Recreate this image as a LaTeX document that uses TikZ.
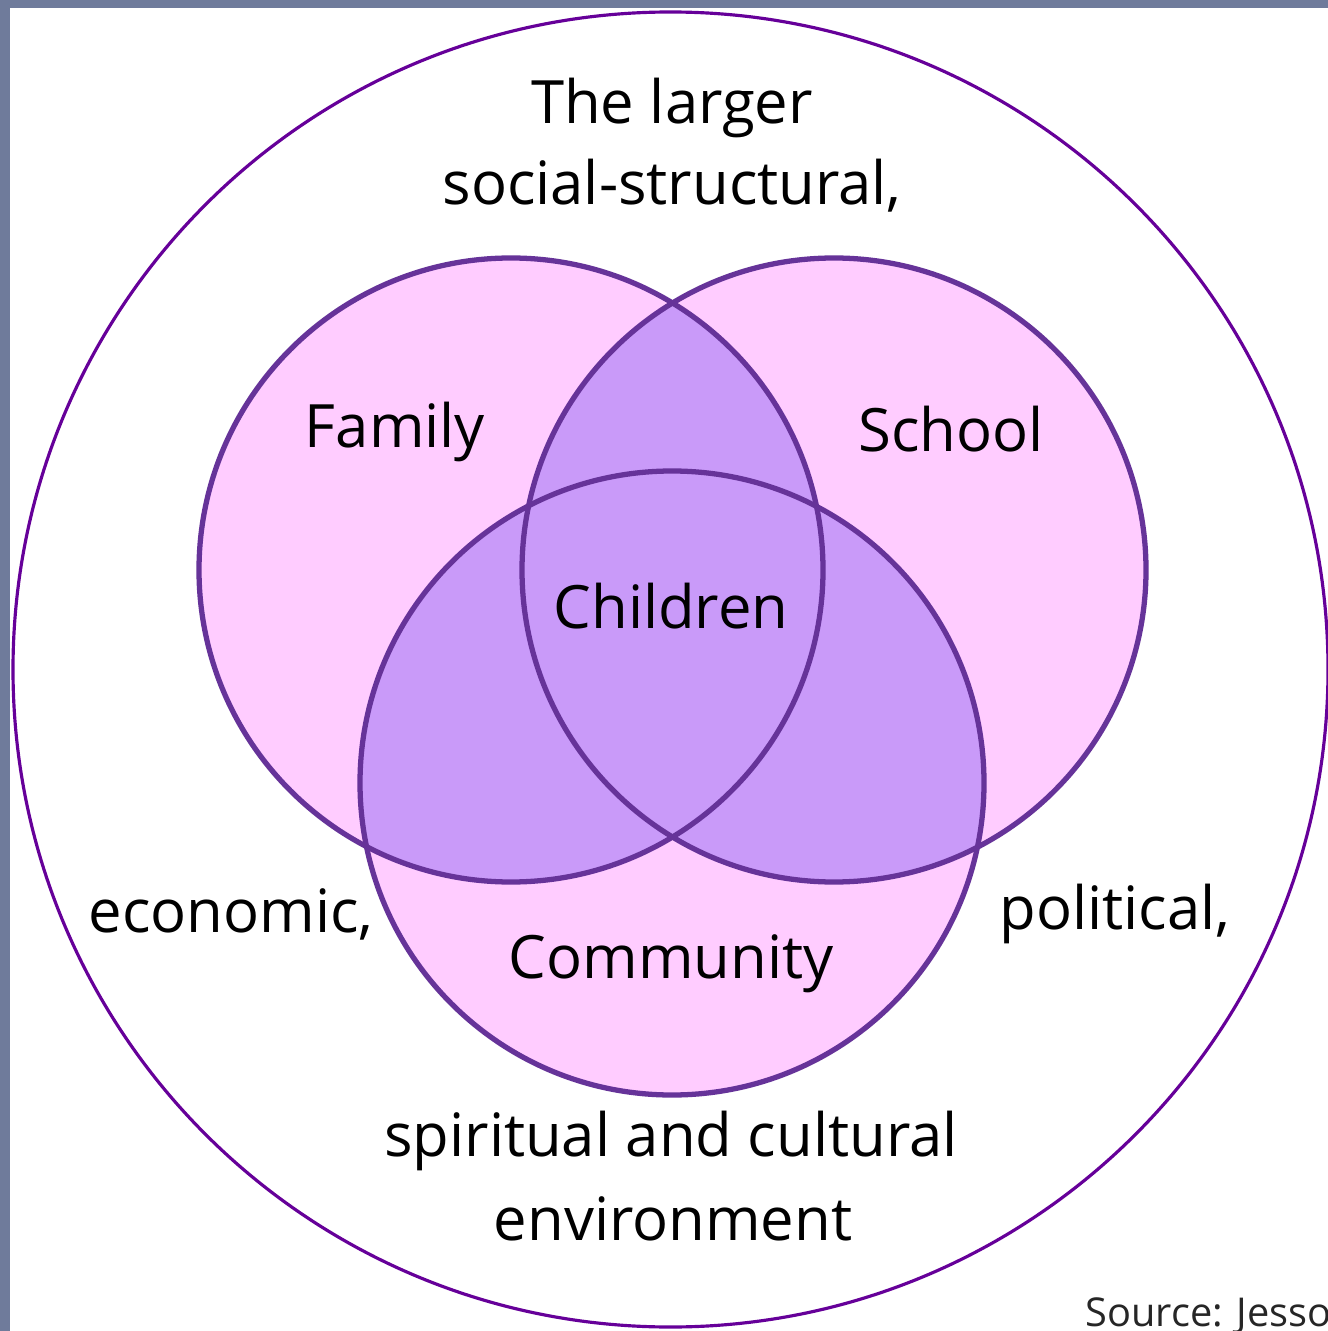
\documentclass[tikz,border=0pt]{standalone}
\usepackage{fontspec}
\setmainfont{Open Sans}
\definecolor{pinkfill}{HTML}{FFCCFF}
\definecolor{overlapfill}{HTML}{C99AF9}
\definecolor{ringline}{HTML}{663399}
\definecolor{outerline}{HTML}{660099}
\definecolor{frameblue}{HTML}{6F7B9B}
\tikzset{
  ring/.style={draw=ringline, line width=1.5pt},
  outerring/.style={draw=outerline, line width=0.9pt},
  lbl/.style={inner sep=0pt, font=\fontsize{17pt}{20pt}\selectfont, text=black},
}
\begin{document}
\begin{tikzpicture}[x=0.01cm,y=-0.01cm]
\useasboundingbox (0,0) rectangle (1328,1331);
\clip (0,0) rectangle (1328,1331);
\fill[white] (0,0) rectangle (1328,1331);
\fill[frameblue] (0,0) rectangle (1328,8);
\fill[frameblue] (0,0) rectangle (10,1331);
% outer circle
\draw[outerring] (670.5,669.5) circle[radius=657.5];
% circle centres
\coordinate (fam) at (511,570);
\coordinate (sch) at (834,570);
\coordinate (com) at (672,783);
\def\rr{312}
\fill[pinkfill] (fam) circle[radius=\rr];
\fill[pinkfill] (sch) circle[radius=\rr];
\fill[pinkfill] (com) circle[radius=\rr];
\begin{scope}
  \clip (fam) circle[radius=\rr];
  \fill[overlapfill] (sch) circle[radius=\rr];
  \fill[overlapfill] (com) circle[radius=\rr];
\end{scope}
\begin{scope}
  \clip (sch) circle[radius=\rr];
  \fill[overlapfill] (com) circle[radius=\rr];
\end{scope}
\draw[ring] (fam) circle[radius=\rr];
\draw[ring] (sch) circle[radius=\rr];
\draw[ring] (com) circle[radius=\rr];
% labels
\node[lbl] (t1) at (672,108) {The larger};
\node[lbl] (t2) at (672,186) {social-structural,};
\node[lbl] (family) at (395,432) {Family};
\node[lbl] (school) at (951,429) {School};
\node[lbl] (children) at (671,606) {Children};
\node[lbl] (econ) at (231,914) {economic,};
\node[lbl] (pol) at (1115,914) {political,};
\node[lbl] (comm) at (671,964) {Community};
\node[lbl] (b1) at (671,1141) {spiritual and cultural};
\node[lbl] (b2) at (673,1219) {environment};
\node[inner sep=0pt, anchor=base west, font=\fontsize{11.3pt}{13pt}\selectfont, text=black!85] (src) at (1085,1326) {Source: Jesso};
\end{tikzpicture}
\end{document}
